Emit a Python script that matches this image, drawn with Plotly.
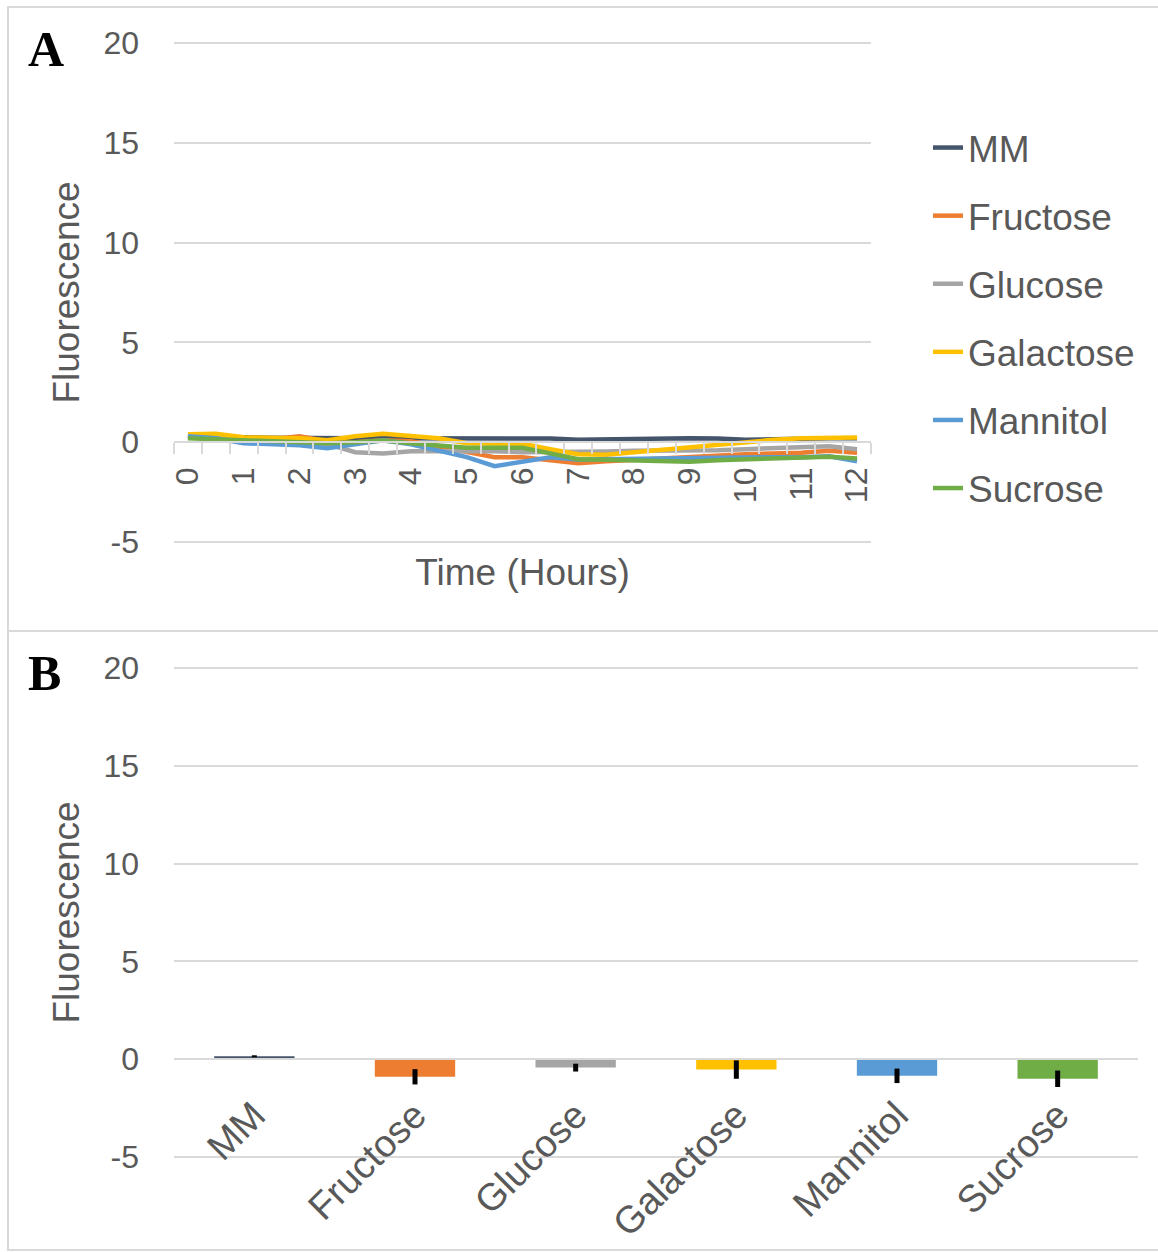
import plotly.graph_objects as go

# ---------------- data ----------------
hours = [i * 0.5 for i in range(25)]
hour_labels = [str(h) for h in range(13)]

mm = [0.3, 0.3, 0.25, 0.22, 0.2, 0.2, 0.2, 0.2, 0.2, 0.2, 0.2, 0.2, 0.2,
      0.18, 0.12, 0.15, 0.18, 0.18, 0.2, 0.18, 0.12, 0.15, 0.2, 0.2, 0.2]
fructose = [0.35, 0.3, 0.15, 0.15, 0.3, 0.05, 0.0, 0.1, 0.05, -0.2, -0.5, -0.75, -0.75,
            -0.9, -1.06, -0.95, -0.87, -0.8, -0.73, -0.68, -0.6, -0.57, -0.53, -0.43, -0.53]
glucose = [0.3, 0.25, 0.1, 0.05, 0.0, -0.1, -0.5, -0.56, -0.45, -0.45, -0.4, -0.45, -0.5,
           -0.5, -0.5, -0.47, -0.43, -0.43, -0.43, -0.4, -0.35, -0.3, -0.27, -0.2, -0.35]
galactose = [0.4, 0.42, 0.25, 0.22, 0.2, 0.1, 0.3, 0.42, 0.3, 0.2, -0.05, -0.08, -0.08,
             -0.35, -0.6, -0.63, -0.5, -0.35, -0.25, -0.1, 0.0, 0.12, 0.2, 0.22, 0.23]
mannitol = [0.3, 0.2, -0.05, -0.1, -0.15, -0.3, -0.1, 0.1, -0.1, -0.4, -0.75, -1.2, -0.95,
            -0.75, -0.87, -0.85, -0.8, -0.8, -0.78, -0.77, -0.77, -0.75, -0.75, -0.7, -0.96]
sucrose = [0.2, 0.15, 0.08, 0.06, 0.03, -0.05, 0.0, 0.08, -0.05, -0.15, -0.28, -0.28, -0.28,
           -0.56, -0.85, -0.88, -0.93, -0.98, -0.98, -0.9, -0.87, -0.82, -0.77, -0.73, -0.82]

series_names = ["MM", "Fructose", "Glucose", "Galactose", "Mannitol", "Sucrose"]
series_values = [mm, fructose, glucose, galactose, mannitol, sucrose]
colors = ["#44546A", "#ED7D31", "#A5A5A5", "#FFC000", "#5B9BD5", "#70AD47"]

bar_categories = ["MM", "Fructose", "Glucose", "Galactose", "Mannitol", "Sucrose"]
bar_values = [0.15, -0.9, -0.43, -0.53, -0.85, -1.0]
bar_errors = [0.05, 0.39, 0.2, 0.47, 0.37, 0.42]

y_ticks = [-5, 0, 5, 10, 15, 20]
y_tick_text = ["-5", "0", "5", "10", "15", "20"]

# ---------------- layout helpers ----------------
W, H = 1158, 1252
FONT = "Liberation Sans"
TXT = "#595959"
GRID = "#D9D9D9"
PAD = 0.2  # small padding so edge gridlines are drawn

def px(x):
    return x / W

def py(y):
    return 1 - y / H

fig = go.Figure()

for name, vals, col in zip(series_names, series_values, colors):
    fig.add_trace(go.Scatter(
        x=hours, y=vals, mode="lines", name=name, legendgroup=name,
        line=dict(color=col, width=4.5), xaxis="x", yaxis="y"))

fig.add_trace(go.Bar(
    x=bar_categories, y=bar_values, marker=dict(color=colors, line=dict(width=0)),
    width=0.5, showlegend=False, xaxis="x2", yaxis="y2",
    error_y=dict(type="data", array=bar_errors, color="black", thickness=5, width=0)))

def ydomain(top_px, bottom_px):
    unit = (bottom_px - top_px) / 25.0
    return [py(bottom_px + PAD * unit), py(top_px - PAD * unit)]

yA = ydomain(43, 542)
yB = ydomain(668, 1157)
zeroA = py(442)
zeroB = py(1059)
yrange = [-5 - PAD, 20 + PAD]

fig.update_layout(
    width=W, height=H, margin=dict(l=0, r=0, t=0, b=0, autoexpand=False),
    paper_bgcolor="white", plot_bgcolor="white",
    font=dict(family=FONT, color=TXT),
    xaxis=dict(domain=[px(174), px(871)], anchor="free", position=zeroA,
               range=[-0.25, 12.25], tickmode="array", tickvals=list(range(13)),
               ticktext=hour_labels, tickangle=-90, ticks="", showgrid=False,
               showline=True, linecolor=GRID, linewidth=1.5, zeroline=False,
               tickfont=dict(size=32, color=TXT), ticklabelstandoff=12,
               automargin=False,
               minor=dict(tickmode="array", tickvals=[-0.25 + 0.5 * k for k in range(26)],
                          ticks="outside", ticklen=11, tickcolor=GRID, tickwidth=1.5,
                          showgrid=False),
               title=dict(text="Time (Hours)", font=dict(size=37, color=TXT), standoff=56)),
    yaxis=dict(domain=yA, anchor="x", range=yrange, tickmode="array",
               tickvals=y_ticks, ticktext=y_tick_text,
               showgrid=True, gridcolor=GRID, gridwidth=1.5, zeroline=False,
               showline=False, ticks="", tickfont=dict(size=32, color=TXT),
               ticklabelstandoff=34, automargin=False,
               title=dict(text="Fluorescence", font=dict(size=37, color=TXT), standoff=12)),
    xaxis2=dict(domain=[px(174), px(1138)], anchor="free", position=zeroB,
                type="category", tickangle=-45, ticks="", showgrid=False,
                showline=True, linecolor=GRID, linewidth=1.5, zeroline=False,
                tickfont=dict(size=38, color=TXT), ticklabelstandoff=18,
                automargin=False),
    yaxis2=dict(domain=yB, anchor="x2", range=yrange, tickmode="array",
                tickvals=y_ticks, ticktext=y_tick_text,
                showgrid=True, gridcolor=GRID, gridwidth=1.5, zeroline=False,
                showline=False, ticks="", tickfont=dict(size=32, color=TXT),
                ticklabelstandoff=34, automargin=False,
                title=dict(text="Fluorescence", font=dict(size=37, color=TXT), standoff=12)),
    legend=dict(x=px(928), y=py(117), xanchor="left", yanchor="top",
                font=dict(size=37, color=TXT), tracegroupgap=17,
                bgcolor="rgba(0,0,0,0)", itemwidth=30),
    bargap=0.5,
)

# panel labels
fig.add_annotation(text="<b>A</b>", x=px(26), y=py(19), xref="paper", yref="paper",
                   xanchor="left", yanchor="top", showarrow=False,
                   font=dict(family="Liberation Serif", size=50, color="black"))
fig.add_annotation(text="<b>B</b>", x=px(26), y=py(643), xref="paper", yref="paper",
                   xanchor="left", yanchor="top", showarrow=False,
                   font=dict(family="Liberation Serif", size=50, color="black"))

# outer frame and separator
frame = dict(color=GRID, width=2)
fig.add_shape(type="line", xref="paper", yref="paper", x0=px(7), x1=1, y0=py(7), y1=py(7), line=frame)
fig.add_shape(type="line", xref="paper", yref="paper", x0=px(8), x1=px(8), y0=py(7), y1=py(1250), line=frame)
fig.add_shape(type="line", xref="paper", yref="paper", x0=px(7), x1=1, y0=py(631), y1=py(631), line=frame)
fig.add_shape(type="line", xref="paper", yref="paper", x0=px(7), x1=1, y0=py(1250), y1=py(1250), line=frame)

fig.write_html("out.html")
